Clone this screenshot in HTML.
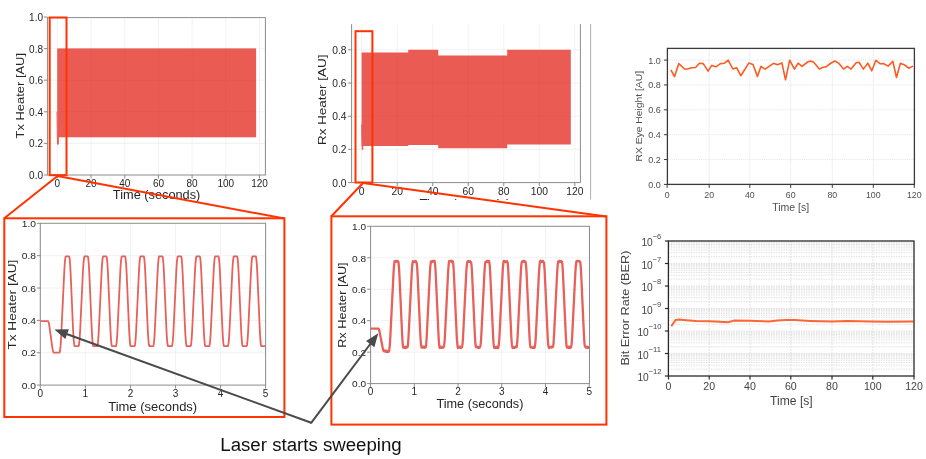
<!DOCTYPE html>
<html><head><meta charset="utf-8"><style>
html,body{margin:0;padding:0;background:#fff;}
svg{display:block;will-change:transform;}
</style></head><body>
<svg width="926" height="459" viewBox="0 0 926 459" font-family='"Liberation Sans", sans-serif'>
<rect width="926" height="459" fill="#fff"/>
<line x1="57.4" y1="17.6" x2="57.4" y2="175" stroke="#efefef" stroke-width="0.8" />
<line x1="91.08" y1="17.6" x2="91.08" y2="175" stroke="#efefef" stroke-width="0.8" />
<line x1="124.76" y1="17.6" x2="124.76" y2="175" stroke="#efefef" stroke-width="0.8" />
<line x1="158.44" y1="17.6" x2="158.44" y2="175" stroke="#efefef" stroke-width="0.8" />
<line x1="192.12" y1="17.6" x2="192.12" y2="175" stroke="#efefef" stroke-width="0.8" />
<line x1="225.8" y1="17.6" x2="225.8" y2="175" stroke="#efefef" stroke-width="0.8" />
<line x1="259.48" y1="17.6" x2="259.48" y2="175" stroke="#efefef" stroke-width="0.8" />
<line x1="47.4" y1="143.4" x2="265.4" y2="143.4" stroke="#efefef" stroke-width="0.8" />
<line x1="47.4" y1="111.8" x2="265.4" y2="111.8" stroke="#efefef" stroke-width="0.8" />
<line x1="47.4" y1="80.2" x2="265.4" y2="80.2" stroke="#efefef" stroke-width="0.8" />
<line x1="47.4" y1="48.6" x2="265.4" y2="48.6" stroke="#efefef" stroke-width="0.8" />
<rect x="57.2" y="48.4" width="198.9" height="88.9" fill="#EA5B53"/>
<polygon points="56.5,111.8 57.3,111.8 57.6,137 58.9,137 58.9,144.4 57.0,144.4 56.6,120" fill="#EA5B53"/>
<line x1="91.08" y1="48.4" x2="91.08" y2="137.3" stroke="#000" stroke-width="0.8" stroke-opacity="0.03"/>
<line x1="124.76" y1="48.4" x2="124.76" y2="137.3" stroke="#000" stroke-width="0.8" stroke-opacity="0.03"/>
<line x1="158.44" y1="48.4" x2="158.44" y2="137.3" stroke="#000" stroke-width="0.8" stroke-opacity="0.03"/>
<line x1="192.12" y1="48.4" x2="192.12" y2="137.3" stroke="#000" stroke-width="0.8" stroke-opacity="0.03"/>
<line x1="225.8" y1="48.4" x2="225.8" y2="137.3" stroke="#000" stroke-width="0.8" stroke-opacity="0.03"/>
<line x1="57.2" y1="111.8" x2="255.7" y2="111.8" stroke="#000" stroke-width="0.8" stroke-opacity="0.03"/>
<line x1="57.2" y1="80.2" x2="255.7" y2="80.2" stroke="#000" stroke-width="0.8" stroke-opacity="0.03"/>
<rect x="47.4" y="17.6" width="218" height="157.4" fill="none" stroke="#8c8c8c" stroke-width="1"/>
<line x1="43.9" y1="175" x2="47.4" y2="175" stroke="#8c8c8c" stroke-width="1" />
<text x="43" y="179" font-size="10" fill="#262626" text-anchor="end" font-family='"Liberation Sans", sans-serif' textLength="13.9" lengthAdjust="spacingAndGlyphs" >0.0</text>
<line x1="43.9" y1="143.4" x2="47.4" y2="143.4" stroke="#8c8c8c" stroke-width="1" />
<text x="43" y="147.4" font-size="10" fill="#262626" text-anchor="end" font-family='"Liberation Sans", sans-serif' textLength="13.9" lengthAdjust="spacingAndGlyphs" >0.2</text>
<line x1="43.9" y1="111.8" x2="47.4" y2="111.8" stroke="#8c8c8c" stroke-width="1" />
<text x="43" y="115.8" font-size="10" fill="#262626" text-anchor="end" font-family='"Liberation Sans", sans-serif' textLength="13.9" lengthAdjust="spacingAndGlyphs" >0.4</text>
<line x1="43.9" y1="80.2" x2="47.4" y2="80.2" stroke="#8c8c8c" stroke-width="1" />
<text x="43" y="84.2" font-size="10" fill="#262626" text-anchor="end" font-family='"Liberation Sans", sans-serif' textLength="13.9" lengthAdjust="spacingAndGlyphs" >0.6</text>
<line x1="43.9" y1="48.6" x2="47.4" y2="48.6" stroke="#8c8c8c" stroke-width="1" />
<text x="43" y="52.6" font-size="10" fill="#262626" text-anchor="end" font-family='"Liberation Sans", sans-serif' textLength="13.9" lengthAdjust="spacingAndGlyphs" >0.8</text>
<line x1="43.9" y1="17" x2="47.4" y2="17" stroke="#8c8c8c" stroke-width="1" />
<text x="43" y="21" font-size="10" fill="#262626" text-anchor="end" font-family='"Liberation Sans", sans-serif' textLength="13.9" lengthAdjust="spacingAndGlyphs" >1.0</text>
<line x1="57.4" y1="175" x2="57.4" y2="178.5" stroke="#8c8c8c" stroke-width="1" />
<text x="57.4" y="186.5" font-size="10" fill="#262626" text-anchor="middle" font-family='"Liberation Sans", sans-serif' textLength="5.56" lengthAdjust="spacingAndGlyphs" >0</text>
<line x1="91.08" y1="175" x2="91.08" y2="178.5" stroke="#8c8c8c" stroke-width="1" />
<text x="91.08" y="186.5" font-size="10" fill="#262626" text-anchor="middle" font-family='"Liberation Sans", sans-serif' textLength="11.12" lengthAdjust="spacingAndGlyphs" >20</text>
<line x1="124.76" y1="175" x2="124.76" y2="178.5" stroke="#8c8c8c" stroke-width="1" />
<text x="124.76" y="186.5" font-size="10" fill="#262626" text-anchor="middle" font-family='"Liberation Sans", sans-serif' textLength="11.12" lengthAdjust="spacingAndGlyphs" >40</text>
<line x1="158.44" y1="175" x2="158.44" y2="178.5" stroke="#8c8c8c" stroke-width="1" />
<text x="158.44" y="186.5" font-size="10" fill="#262626" text-anchor="middle" font-family='"Liberation Sans", sans-serif' textLength="11.12" lengthAdjust="spacingAndGlyphs" >60</text>
<line x1="192.12" y1="175" x2="192.12" y2="178.5" stroke="#8c8c8c" stroke-width="1" />
<text x="192.12" y="186.5" font-size="10" fill="#262626" text-anchor="middle" font-family='"Liberation Sans", sans-serif' textLength="11.12" lengthAdjust="spacingAndGlyphs" >80</text>
<line x1="225.8" y1="175" x2="225.8" y2="178.5" stroke="#8c8c8c" stroke-width="1" />
<text x="225.8" y="186.5" font-size="10" fill="#262626" text-anchor="middle" font-family='"Liberation Sans", sans-serif' textLength="16.68" lengthAdjust="spacingAndGlyphs" >100</text>
<line x1="259.48" y1="175" x2="259.48" y2="178.5" stroke="#8c8c8c" stroke-width="1" />
<text x="259.48" y="186.5" font-size="10" fill="#262626" text-anchor="middle" font-family='"Liberation Sans", sans-serif' textLength="16.68" lengthAdjust="spacingAndGlyphs" >120</text>
<text x="156.6" y="199.4" font-size="12.0" fill="#262626" text-anchor="middle" font-family='"Liberation Sans", sans-serif' textLength="87.5" lengthAdjust="spacingAndGlyphs" >Time (seconds)</text>
<text x="0" y="0" font-size="11.8" fill="#262626" text-anchor="middle" font-family='"Liberation Sans", sans-serif' textLength="85.5" lengthAdjust="spacingAndGlyphs" transform="translate(24.2,95.7) rotate(-90)">Tx Heater [AU]</text>
<line x1="361.7" y1="24.2" x2="361.7" y2="182.6" stroke="#efefef" stroke-width="0.8" />
<line x1="397.22" y1="24.2" x2="397.22" y2="182.6" stroke="#efefef" stroke-width="0.8" />
<line x1="432.74" y1="24.2" x2="432.74" y2="182.6" stroke="#efefef" stroke-width="0.8" />
<line x1="468.26" y1="24.2" x2="468.26" y2="182.6" stroke="#efefef" stroke-width="0.8" />
<line x1="503.78" y1="24.2" x2="503.78" y2="182.6" stroke="#efefef" stroke-width="0.8" />
<line x1="539.3" y1="24.2" x2="539.3" y2="182.6" stroke="#efefef" stroke-width="0.8" />
<line x1="574.82" y1="24.2" x2="574.82" y2="182.6" stroke="#efefef" stroke-width="0.8" />
<line x1="351.6" y1="149.4" x2="580.4" y2="149.4" stroke="#efefef" stroke-width="0.8" />
<line x1="351.6" y1="116.2" x2="580.4" y2="116.2" stroke="#efefef" stroke-width="0.8" />
<line x1="351.6" y1="83" x2="580.4" y2="83" stroke="#efefef" stroke-width="0.8" />
<line x1="351.6" y1="49.8" x2="580.4" y2="49.8" stroke="#efefef" stroke-width="0.8" />
<polygon points="361.6,52.6 408.2,52.6 408.2,49.7 438.2,49.7 438.2,55.4 507.2,55.4 507.2,49.7 570.8,49.7 570.8,144.6 507.2,144.6 507.2,148.3 438.2,148.3 438.2,145.1 408.2,145.1 408.2,145.9 361.6,145.9" fill="#EA5B53"/>
<polygon points="361.0,124.5 361.8,124.5 362.2,145 363.2,145 363.2,149.8 361.8,149.8 361.2,130" fill="#EA5B53"/>
<line x1="397.22" y1="56" x2="397.22" y2="144" stroke="#000" stroke-width="0.8" stroke-opacity="0.03"/>
<line x1="432.74" y1="56" x2="432.74" y2="144" stroke="#000" stroke-width="0.8" stroke-opacity="0.03"/>
<line x1="468.26" y1="56" x2="468.26" y2="144" stroke="#000" stroke-width="0.8" stroke-opacity="0.03"/>
<line x1="503.78" y1="56" x2="503.78" y2="144" stroke="#000" stroke-width="0.8" stroke-opacity="0.03"/>
<line x1="539.3" y1="56" x2="539.3" y2="144" stroke="#000" stroke-width="0.8" stroke-opacity="0.03"/>
<line x1="362" y1="116.2" x2="570.8" y2="116.2" stroke="#000" stroke-width="0.8" stroke-opacity="0.03"/>
<line x1="362" y1="83" x2="570.8" y2="83" stroke="#000" stroke-width="0.8" stroke-opacity="0.03"/>
<line x1="351.6" y1="24.2" x2="351.6" y2="182.6" stroke="#8c8c8c" stroke-width="1" />
<line x1="580.4" y1="24.2" x2="580.4" y2="182.6" stroke="#8c8c8c" stroke-width="1" />
<line x1="351.6" y1="182.6" x2="580.4" y2="182.6" stroke="#8c8c8c" stroke-width="1" />
<line x1="590.6" y1="24" x2="590.6" y2="199.6" stroke="#b0b0b0" stroke-width="1" />
<line x1="348.1" y1="182.6" x2="351.6" y2="182.6" stroke="#8c8c8c" stroke-width="1" />
<text x="346.6" y="186.6" font-size="10.3" fill="#262626" text-anchor="end" font-family='"Liberation Sans", sans-serif' textLength="14.32" lengthAdjust="spacingAndGlyphs" >0.0</text>
<line x1="348.1" y1="149.4" x2="351.6" y2="149.4" stroke="#8c8c8c" stroke-width="1" />
<text x="346.6" y="153.4" font-size="10.3" fill="#262626" text-anchor="end" font-family='"Liberation Sans", sans-serif' textLength="14.32" lengthAdjust="spacingAndGlyphs" >0.2</text>
<line x1="348.1" y1="116.2" x2="351.6" y2="116.2" stroke="#8c8c8c" stroke-width="1" />
<text x="346.6" y="120.2" font-size="10.3" fill="#262626" text-anchor="end" font-family='"Liberation Sans", sans-serif' textLength="14.32" lengthAdjust="spacingAndGlyphs" >0.4</text>
<line x1="348.1" y1="83" x2="351.6" y2="83" stroke="#8c8c8c" stroke-width="1" />
<text x="346.6" y="87" font-size="10.3" fill="#262626" text-anchor="end" font-family='"Liberation Sans", sans-serif' textLength="14.32" lengthAdjust="spacingAndGlyphs" >0.6</text>
<line x1="348.1" y1="49.8" x2="351.6" y2="49.8" stroke="#8c8c8c" stroke-width="1" />
<text x="346.6" y="53.8" font-size="10.3" fill="#262626" text-anchor="end" font-family='"Liberation Sans", sans-serif' textLength="14.32" lengthAdjust="spacingAndGlyphs" >0.8</text>
<line x1="361.7" y1="182.6" x2="361.7" y2="186.1" stroke="#8c8c8c" stroke-width="1" />
<text x="361.7" y="194.8" font-size="10.3" fill="#262626" text-anchor="middle" font-family='"Liberation Sans", sans-serif' textLength="5.73" lengthAdjust="spacingAndGlyphs" >0</text>
<line x1="397.22" y1="182.6" x2="397.22" y2="186.1" stroke="#8c8c8c" stroke-width="1" />
<text x="397.22" y="194.8" font-size="10.3" fill="#262626" text-anchor="middle" font-family='"Liberation Sans", sans-serif' textLength="11.46" lengthAdjust="spacingAndGlyphs" >20</text>
<line x1="432.74" y1="182.6" x2="432.74" y2="186.1" stroke="#8c8c8c" stroke-width="1" />
<text x="432.74" y="194.8" font-size="10.3" fill="#262626" text-anchor="middle" font-family='"Liberation Sans", sans-serif' textLength="11.46" lengthAdjust="spacingAndGlyphs" >40</text>
<line x1="468.26" y1="182.6" x2="468.26" y2="186.1" stroke="#8c8c8c" stroke-width="1" />
<text x="468.26" y="194.8" font-size="10.3" fill="#262626" text-anchor="middle" font-family='"Liberation Sans", sans-serif' textLength="11.46" lengthAdjust="spacingAndGlyphs" >60</text>
<line x1="503.78" y1="182.6" x2="503.78" y2="186.1" stroke="#8c8c8c" stroke-width="1" />
<text x="503.78" y="194.8" font-size="10.3" fill="#262626" text-anchor="middle" font-family='"Liberation Sans", sans-serif' textLength="11.46" lengthAdjust="spacingAndGlyphs" >80</text>
<line x1="539.3" y1="182.6" x2="539.3" y2="186.1" stroke="#8c8c8c" stroke-width="1" />
<text x="539.3" y="194.8" font-size="10.3" fill="#262626" text-anchor="middle" font-family='"Liberation Sans", sans-serif' textLength="17.18" lengthAdjust="spacingAndGlyphs" >100</text>
<line x1="574.82" y1="182.6" x2="574.82" y2="186.1" stroke="#8c8c8c" stroke-width="1" />
<text x="574.82" y="194.8" font-size="10.3" fill="#262626" text-anchor="middle" font-family='"Liberation Sans", sans-serif' textLength="17.18" lengthAdjust="spacingAndGlyphs" >120</text>
<clipPath id="cb"><rect x="400" y="190" width="150" height="10"/></clipPath>
<text x="465" y="207.6" font-size="12.6" fill="#262626" text-anchor="middle" font-family='"Liberation Sans", sans-serif' textLength="91" lengthAdjust="spacingAndGlyphs" clip-path="url(#cb)">Time (seconds)</text>
<text x="0" y="0" font-size="11.1" fill="#262626" text-anchor="middle" font-family='"Liberation Sans", sans-serif' textLength="90.5" lengthAdjust="spacingAndGlyphs" transform="translate(326.0,99.8) rotate(-90)">Rx Heater [AU]</text>
<line x1="709.2" y1="48.4" x2="709.2" y2="184.4" stroke="#e3e3e3" stroke-width="0.9" stroke-dasharray="1.2,0.9"/>
<line x1="749.8" y1="48.4" x2="749.8" y2="184.4" stroke="#e3e3e3" stroke-width="0.9" stroke-dasharray="1.2,0.9"/>
<line x1="790.7" y1="48.4" x2="790.7" y2="184.4" stroke="#e3e3e3" stroke-width="0.9" stroke-dasharray="1.2,0.9"/>
<line x1="832.3" y1="48.4" x2="832.3" y2="184.4" stroke="#e3e3e3" stroke-width="0.9" stroke-dasharray="1.2,0.9"/>
<line x1="873.3" y1="48.4" x2="873.3" y2="184.4" stroke="#e3e3e3" stroke-width="0.9" stroke-dasharray="1.2,0.9"/>
<line x1="667.4" y1="159.54" x2="914.4" y2="159.54" stroke="#e3e3e3" stroke-width="0.9" stroke-dasharray="1.2,0.9"/>
<line x1="667.4" y1="134.68" x2="914.4" y2="134.68" stroke="#e3e3e3" stroke-width="0.9" stroke-dasharray="1.2,0.9"/>
<line x1="667.4" y1="109.82" x2="914.4" y2="109.82" stroke="#e3e3e3" stroke-width="0.9" stroke-dasharray="1.2,0.9"/>
<line x1="667.4" y1="84.96" x2="914.4" y2="84.96" stroke="#e3e3e3" stroke-width="0.9" stroke-dasharray="1.2,0.9"/>
<line x1="667.4" y1="60.1" x2="914.4" y2="60.1" stroke="#e3e3e3" stroke-width="0.9" stroke-dasharray="1.2,0.9"/>
<polyline points="670.9,69.9 674.5,76.7 678.8,63.6 684.7,69 687.5,69 691.7,67.8 695.6,67.5 699.4,63.3 703.2,63.6 708.1,71.1 711.7,65.4 715.8,66.8 720.5,63.6 724.2,63.3 728.2,60.2 732.8,69 736.6,67.7 740.8,75.7 748.8,63.1 753,64.5 757.4,76.4 760.9,66.4 765.1,69.2 773.4,63.3 777.6,64.7 781.9,62.9 785.5,79.8 789.7,60.2 794.4,69.1 798.1,63.2 802,66.4 807.6,62 810.6,61 813.5,62 819.4,69.1 823,67.2 826,66.9 830.4,63.5 834.8,61 838.5,63.1 843.6,69.1 847.3,66.4 851,69.1 856.1,62.8 859,62.3 863.4,69.1 867.8,63.1 871.8,70.8 875.9,60.3 880.3,63.8 883.3,63.5 888.1,66.1 892.8,61.3 896.5,77.5 900.4,63.2 904.6,65 908.7,68.2 913.1,66.1" fill="none" stroke="#FF5A1F" stroke-width="1.6" stroke-linejoin="round" />
<rect x="667.4" y="48.4" width="247" height="136" fill="none" stroke="#3a3a3a" stroke-width="1.3"/>
<line x1="663.9" y1="184.4" x2="667.4" y2="184.4" stroke="#3a3a3a" stroke-width="1" />
<text x="660.8" y="187.9" font-size="9.4" fill="#505050" text-anchor="end" font-family='"Liberation Sans", sans-serif' textLength="12.6" lengthAdjust="spacingAndGlyphs" >0.0</text>
<line x1="663.9" y1="159.54" x2="667.4" y2="159.54" stroke="#3a3a3a" stroke-width="1" />
<text x="660.8" y="163.04" font-size="9.4" fill="#505050" text-anchor="end" font-family='"Liberation Sans", sans-serif' textLength="12.6" lengthAdjust="spacingAndGlyphs" >0.2</text>
<line x1="663.9" y1="134.68" x2="667.4" y2="134.68" stroke="#3a3a3a" stroke-width="1" />
<text x="660.8" y="138.18" font-size="9.4" fill="#505050" text-anchor="end" font-family='"Liberation Sans", sans-serif' textLength="12.6" lengthAdjust="spacingAndGlyphs" >0.4</text>
<line x1="663.9" y1="109.82" x2="667.4" y2="109.82" stroke="#3a3a3a" stroke-width="1" />
<text x="660.8" y="113.32" font-size="9.4" fill="#505050" text-anchor="end" font-family='"Liberation Sans", sans-serif' textLength="12.6" lengthAdjust="spacingAndGlyphs" >0.6</text>
<line x1="663.9" y1="84.96" x2="667.4" y2="84.96" stroke="#3a3a3a" stroke-width="1" />
<text x="660.8" y="88.46" font-size="9.4" fill="#505050" text-anchor="end" font-family='"Liberation Sans", sans-serif' textLength="12.6" lengthAdjust="spacingAndGlyphs" >0.8</text>
<line x1="663.9" y1="60.1" x2="667.4" y2="60.1" stroke="#3a3a3a" stroke-width="1" />
<text x="660.8" y="63.6" font-size="9.4" fill="#505050" text-anchor="end" font-family='"Liberation Sans", sans-serif' textLength="12.6" lengthAdjust="spacingAndGlyphs" >1.0</text>
<line x1="667.1" y1="184.4" x2="667.1" y2="187.9" stroke="#3a3a3a" stroke-width="1" />
<text x="667.1" y="198.1" font-size="9.8" fill="#505050" text-anchor="middle" font-family='"Liberation Sans", sans-serif' textLength="4.9" lengthAdjust="spacingAndGlyphs" >0</text>
<line x1="709.2" y1="184.4" x2="709.2" y2="187.9" stroke="#3a3a3a" stroke-width="1" />
<text x="709.2" y="198.1" font-size="9.8" fill="#505050" text-anchor="middle" font-family='"Liberation Sans", sans-serif' textLength="9.8" lengthAdjust="spacingAndGlyphs" >20</text>
<line x1="749.8" y1="184.4" x2="749.8" y2="187.9" stroke="#3a3a3a" stroke-width="1" />
<text x="749.8" y="198.1" font-size="9.8" fill="#505050" text-anchor="middle" font-family='"Liberation Sans", sans-serif' textLength="9.8" lengthAdjust="spacingAndGlyphs" >40</text>
<line x1="790.7" y1="184.4" x2="790.7" y2="187.9" stroke="#3a3a3a" stroke-width="1" />
<text x="790.7" y="198.1" font-size="9.8" fill="#505050" text-anchor="middle" font-family='"Liberation Sans", sans-serif' textLength="9.8" lengthAdjust="spacingAndGlyphs" >60</text>
<line x1="832.3" y1="184.4" x2="832.3" y2="187.9" stroke="#3a3a3a" stroke-width="1" />
<text x="832.3" y="198.1" font-size="9.8" fill="#505050" text-anchor="middle" font-family='"Liberation Sans", sans-serif' textLength="9.8" lengthAdjust="spacingAndGlyphs" >80</text>
<line x1="873.3" y1="184.4" x2="873.3" y2="187.9" stroke="#3a3a3a" stroke-width="1" />
<text x="873.3" y="198.1" font-size="9.8" fill="#505050" text-anchor="middle" font-family='"Liberation Sans", sans-serif' textLength="14.7" lengthAdjust="spacingAndGlyphs" >100</text>
<line x1="914.3" y1="184.4" x2="914.3" y2="187.9" stroke="#3a3a3a" stroke-width="1" />
<text x="914.3" y="198.1" font-size="9.8" fill="#505050" text-anchor="middle" font-family='"Liberation Sans", sans-serif' textLength="14.7" lengthAdjust="spacingAndGlyphs" >120</text>
<text x="790.7" y="211" font-size="10.6" fill="#505050" text-anchor="middle" font-family='"Liberation Sans", sans-serif' textLength="37" lengthAdjust="spacingAndGlyphs" >Time [s]</text>
<text x="0" y="0" font-size="9.9" fill="#505050" text-anchor="middle" font-family='"Liberation Sans", sans-serif' textLength="90.5" lengthAdjust="spacingAndGlyphs" transform="translate(642.2,116.2) rotate(-90)">RX Eye Height [AU]</text>
<line x1="40.3" y1="223.3" x2="40.3" y2="385.1" stroke="#efefef" stroke-width="0.8" />
<line x1="85.36" y1="223.3" x2="85.36" y2="385.1" stroke="#efefef" stroke-width="0.8" />
<line x1="130.42" y1="223.3" x2="130.42" y2="385.1" stroke="#efefef" stroke-width="0.8" />
<line x1="175.48" y1="223.3" x2="175.48" y2="385.1" stroke="#efefef" stroke-width="0.8" />
<line x1="220.54" y1="223.3" x2="220.54" y2="385.1" stroke="#efefef" stroke-width="0.8" />
<line x1="265.6" y1="223.3" x2="265.6" y2="385.1" stroke="#efefef" stroke-width="0.8" />
<line x1="40.3" y1="352.74" x2="265.6" y2="352.74" stroke="#efefef" stroke-width="0.8" />
<line x1="40.3" y1="320.38" x2="265.6" y2="320.38" stroke="#efefef" stroke-width="0.8" />
<line x1="40.3" y1="288.02" x2="265.6" y2="288.02" stroke="#efefef" stroke-width="0.8" />
<line x1="40.3" y1="255.66" x2="265.6" y2="255.66" stroke="#efefef" stroke-width="0.8" />
<polyline points="40.3,321.1 40.6,321.1 40.9,321.1 41.2,321.1 41.5,321.1 41.8,321.1 42.1,321.1 42.4,321.1 42.7,321.1 43,321.1 43.3,321.1 43.6,321.1 43.9,321.1 44.2,321.1 44.5,321.1 44.8,321.1 45.1,321.1 45.4,321.1 45.7,321.1 46,321.1 46.3,321.1 46.6,321.1 46.9,321.1 47.2,321.1 47.5,321.1 47.8,321.1 48.1,321.26 48.4,321.83 48.7,322.73 49,324.03 49.3,325.66 49.6,327.69 49.9,329.89 50.2,332.09 50.5,334.29 50.8,336.48 51.1,338.68 51.4,340.88 51.7,343.08 52,345.27 52.3,347.39 52.6,349.18 52.9,350.57 53.2,351.62 53.5,352.27 53.8,352.6 54.1,352.6 54.4,352.6 54.7,352.6 55,352.6 55.3,352.6 55.6,352.6 55.9,352.6 56.2,352.6 56.5,352.6 56.8,352.6 57.1,352.6 57.4,352.6 57.7,352.6 58,352.6 58.3,352.6 58.6,352.6 58.9,352.6 59.2,352.6 59.5,352.6 59.8,352.13 60.1,350.51 60.4,347.95 60.7,344.23 61,339.57 61.3,333.76 61.6,327.48 61.9,321.2 62.2,314.92 62.5,308.64 62.8,302.36 63.1,296.08 63.4,289.8 63.7,283.52 64,277.23 64.3,271.19 64.6,266.07 64.9,262.12 65.2,259.09 65.5,257.23 65.8,256.3 66.1,256.3 66.4,256.3 66.7,256.3 67,256.3 67.3,256.3 67.6,256.3 67.9,256.3 68.2,256.3 68.5,256.3 68.8,256.3 69.1,256.3 69.4,257.32 69.7,259.37 70,262.7 70.3,267.06 70.6,272.69 70.9,279.35 71.2,286.27 71.5,293.18 71.8,300.1 72.1,307.01 72.4,313.93 72.7,320.84 73,327.76 73.3,333.65 73.6,338.52 73.9,342.1 74.2,344.66 74.5,345.94 74.8,346.2 75.1,346.2 75.4,346.2 75.7,346.2 76,346.2 76.3,346.2 76.6,346.2 76.9,346.2 77.2,346.2 77.5,346.2 77.8,346.2 78.1,346.2 78.4,346.2 78.7,345.97 79,344.8 79.3,342.46 79.6,339.18 79.9,334.74 80.2,329.36 80.5,323.04 80.8,316.72 81.1,310.41 81.4,304.09 81.7,297.78 82,291.46 82.3,285.14 82.6,278.83 82.9,272.58 83.2,267.27 83.5,262.97 83.8,259.76 84.1,257.56 84.4,256.46 84.7,256.3 85,256.3 85.3,256.3 85.6,256.3 85.9,256.3 86.2,256.3 86.5,256.3 86.8,256.3 87.1,256.3 87.4,256.3 87.7,256.3 88,256.97 88.3,258.84 88.6,261.81 88.9,265.98 89.2,271.26 89.5,277.74 89.8,284.65 90.1,291.57 90.4,298.48 90.7,305.4 91,312.31 91.3,319.23 91.6,326.15 91.9,332.39 92.2,337.44 92.5,341.38 92.8,344.13 93.1,345.76 93.4,346.2 93.7,346.2 94,346.2 94.3,346.2 94.6,346.2 94.9,346.2 95.2,346.2 95.5,346.2 95.8,346.2 96.1,346.2 96.4,346.2 96.7,346.2 97,346.2 97.3,346.13 97.6,345.12 97.9,343.11 98.2,340 98.5,335.88 98.8,330.67 99.1,324.51 99.4,318.2 99.7,311.88 100,305.57 100.3,299.25 100.6,292.93 100.9,286.62 101.2,280.3 101.5,273.99 101.8,268.42 102.1,263.88 102.4,260.42 102.7,257.98 103,256.63 103.3,256.3 103.6,256.3 103.9,256.3 104.2,256.3 104.5,256.3 104.8,256.3 105.1,256.3 105.4,256.3 105.7,256.3 106,256.3 106.3,256.3 106.6,256.71 106.9,258.3 107.2,261.01 107.5,264.91 107.8,269.93 108.1,276.12 108.4,283.04 108.7,289.95 109,296.87 109.3,303.79 109.6,310.7 109.9,317.62 110.2,324.53 110.5,331.04 110.8,336.36 111.1,340.57 111.4,343.59 111.7,345.48 112,346.2 112.3,346.2 112.6,346.2 112.9,346.2 113.2,346.2 113.5,346.2 113.8,346.2 114.1,346.2 114.4,346.2 114.7,346.2 115,346.2 115.3,346.2 115.6,346.2 115.9,346.2 116.2,345.45 116.5,343.67 116.8,340.82 117.1,336.94 117.4,331.98 117.7,325.99 118,319.67 118.3,313.36 118.6,307.04 118.9,300.72 119.2,294.41 119.5,288.09 119.8,281.78 120.1,275.46 120.4,269.59 120.7,264.86 121,261.1 121.3,258.48 121.6,256.81 121.9,256.3 122.2,256.3 122.5,256.3 122.8,256.3 123.1,256.3 123.4,256.3 123.7,256.3 124,256.3 124.3,256.3 124.6,256.3 124.9,256.3 125.2,256.53 125.5,257.79 125.8,260.3 126.1,263.86 126.4,268.67 126.7,274.54 127,281.43 127.3,288.34 127.6,295.26 127.9,302.17 128.2,309.09 128.5,316 128.8,322.92 129.1,329.6 129.4,335.26 129.7,339.67 130,343.02 130.3,345.12 130.6,346.17 130.9,346.2 131.2,346.2 131.5,346.2 131.8,346.2 132.1,346.2 132.4,346.2 132.7,346.2 133,346.2 133.3,346.2 133.6,346.2 133.9,346.2 134.2,346.2 134.5,346.2 134.8,345.76 135.1,344.16 135.4,341.61 135.7,337.92 136,333.26 136.3,327.46 136.6,321.15 136.9,314.83 137.2,308.51 137.5,302.2 137.8,295.88 138.1,289.57 138.4,283.25 138.7,276.93 139,270.9 139.3,265.84 139.6,261.91 139.9,258.97 140.2,257.14 140.5,256.3 140.8,256.3 141.1,256.3 141.4,256.3 141.7,256.3 142,256.3 142.3,256.3 142.6,256.3 142.9,256.3 143.2,256.3 143.5,256.3 143.8,256.35 144.1,257.43 144.4,259.58 144.7,262.96 145,267.42 145.3,273.1 145.6,279.81 145.9,286.73 146.2,293.64 146.5,300.56 146.8,307.47 147.1,314.39 147.4,321.3 147.7,328.17 148,334.01 148.3,338.77 148.6,342.31 148.9,344.77 149.2,346 149.5,346.2 149.8,346.2 150.1,346.2 150.4,346.2 150.7,346.2 151,346.2 151.3,346.2 151.6,346.2 151.9,346.2 152.2,346.2 152.5,346.2 152.8,346.2 153.1,346.2 153.4,345.92 153.7,344.66 154,342.27 154.3,338.9 154.6,334.41 154.9,328.94 155.2,322.62 155.5,316.3 155.8,309.99 156.1,303.67 156.4,297.36 156.7,291.04 157,284.72 157.3,278.41 157.6,272.21 157.9,266.94 158.2,262.73 158.5,259.58 158.8,257.47 159.1,256.42 159.4,256.3 159.7,256.3 160,256.3 160.3,256.3 160.6,256.3 160.9,256.3 161.2,256.3 161.5,256.3 161.8,256.3 162.1,256.3 162.4,256.3 162.7,257.07 163,258.99 163.3,262.06 163.6,266.29 163.9,271.67 164.2,278.2 164.5,285.11 164.8,292.03 165.1,298.94 165.4,305.86 165.7,312.78 166,319.69 166.3,326.61 166.6,332.75 166.9,337.75 167.2,341.59 167.5,344.28 167.8,345.82 168.1,346.2 168.4,346.2 168.7,346.2 169,346.2 169.3,346.2 169.6,346.2 169.9,346.2 170.2,346.2 170.5,346.2 170.8,346.2 171.1,346.2 171.4,346.2 171.7,346.2 172,346.08 172.3,345.03 172.6,342.92 172.9,339.77 173.2,335.56 173.5,330.29 173.8,324.09 174.1,317.78 174.4,311.46 174.7,305.14 175,298.83 175.3,292.51 175.6,286.2 175.9,279.88 176.2,273.56 176.5,268.09 176.8,263.6 177.1,260.23 177.4,257.84 177.7,256.58 178,256.3 178.3,256.3 178.6,256.3 178.9,256.3 179.2,256.3 179.5,256.3 179.8,256.3 180.1,256.3 180.4,256.3 180.7,256.3 181,256.3 181.3,256.76 181.6,258.45 181.9,261.22 182.2,265.21 182.5,270.28 182.8,276.59 183.1,283.5 183.4,290.42 183.7,297.33 184,304.25 184.3,311.16 184.6,318.08 184.9,324.99 185.2,331.45 185.5,336.67 185.8,340.82 186.1,343.74 186.4,345.59 186.7,346.2 187,346.2 187.3,346.2 187.6,346.2 187.9,346.2 188.2,346.2 188.5,346.2 188.8,346.2 189.1,346.2 189.4,346.2 189.7,346.2 190,346.2 190.3,346.2 190.6,346.2 190.9,345.36 191.2,343.53 191.5,340.59 191.8,336.66 192.1,331.6 192.4,325.57 192.7,319.25 193,312.93 193.3,306.62 193.6,300.3 193.9,293.99 194.2,287.67 194.5,281.35 194.8,275.04 195.1,269.24 195.4,264.58 195.7,260.89 196,258.34 196.3,256.74 196.6,256.3 196.9,256.3 197.2,256.3 197.5,256.3 197.8,256.3 198.1,256.3 198.4,256.3 198.7,256.3 199,256.3 199.3,256.3 199.6,256.3 199.9,256.58 200.2,257.91 200.5,260.5 200.8,264.14 201.1,269.03 201.4,274.97 201.7,281.89 202,288.8 202.3,295.72 202.6,302.63 202.9,309.55 203.2,316.46 203.5,323.38 203.8,330.01 204.1,335.6 204.4,339.92 204.7,343.2 205,345.23 205.3,346.2 205.6,346.2 205.9,346.2 206.2,346.2 206.5,346.2 206.8,346.2 207.1,346.2 207.4,346.2 207.7,346.2 208,346.2 208.3,346.2 208.6,346.2 208.9,346.2 209.2,346.2 209.5,345.69 209.8,344.02 210.1,341.4 210.4,337.64 210.7,332.91 211,327.04 211.3,320.72 211.6,314.41 211.9,308.09 212.2,301.78 212.5,295.46 212.8,289.14 213.1,282.83 213.4,276.51 213.7,270.52 214,265.56 214.3,261.68 214.6,258.83 214.9,257.05 215.2,256.3 215.5,256.3 215.8,256.3 216.1,256.3 216.4,256.3 216.7,256.3 217,256.3 217.3,256.3 217.6,256.3 217.9,256.3 218.2,256.3 218.5,256.4 218.8,257.53 219.1,259.78 219.4,263.22 219.7,267.77 220,273.51 220.3,280.27 220.6,287.19 220.9,294.1 221.2,301.02 221.5,307.93 221.8,314.85 222.1,321.77 222.4,328.58 222.7,334.37 223,339.03 223.3,342.51 223.6,344.87 223.9,346.05 224.2,346.2 224.5,346.2 224.8,346.2 225.1,346.2 225.4,346.2 225.7,346.2 226,346.2 226.3,346.2 226.6,346.2 226.9,346.2 227.2,346.2 227.5,346.2 227.8,346.2 228.1,345.87 228.4,344.52 228.7,342.08 229,338.62 229.3,334.08 229.6,328.51 229.9,322.2 230.2,315.88 230.5,309.57 230.8,303.25 231.1,296.93 231.4,290.62 231.7,284.3 232,277.99 232.3,271.83 232.6,266.62 232.9,262.5 233.2,259.39 233.5,257.38 233.8,256.37 234.1,256.3 234.4,256.3 234.7,256.3 235,256.3 235.3,256.3 235.6,256.3 235.9,256.3 236.2,256.3 236.5,256.3 236.8,256.3 237.1,256.3 237.4,257.17 237.7,259.14 238,262.32 238.3,266.6 238.6,272.08 238.9,278.66 239.2,285.58 239.5,292.49 239.8,299.41 240.1,306.32 240.4,313.24 240.7,320.15 241,327.07 241.3,333.11 241.6,338.06 241.9,341.79 242.2,344.43 242.5,345.87 242.8,346.2 243.1,346.2 243.4,346.2 243.7,346.2 244,346.2 244.3,346.2 244.6,346.2 244.9,346.2 245.2,346.2 245.5,346.2 245.8,346.2 246.1,346.2 246.4,346.2 246.7,346.04 247,344.94 247.3,342.74 247.6,339.53 247.9,335.23 248.2,329.92 248.5,323.67 248.8,317.36 249.1,311.04 249.4,304.72 249.7,298.41 250,292.09 250.3,285.78 250.6,279.46 250.9,273.14 251.2,267.76 251.5,263.32 251.8,260.04 252.1,257.7 252.4,256.53 252.7,256.3 253,256.3 253.3,256.3 253.6,256.3 253.9,256.3 254.2,256.3 254.5,256.3 254.8,256.3 255.1,256.3 255.4,256.3 255.7,256.3 256,256.81 256.3,258.61 256.6,261.42 256.9,265.52 257.2,270.64 257.5,277.05 257.8,283.96 258.1,290.88 258.4,297.79 258.7,304.71 259,311.62 259.3,318.54 259.6,325.45 259.9,331.86 260.2,336.98 260.5,341.08 260.8,343.89 261.1,345.69 261.4,346.2 261.7,346.2 262,346.2 262.3,346.2 262.6,346.2 262.9,346.2 263.2,346.2 263.5,346.2 263.8,346.2 264.1,346.2 264.4,346.2 264.7,346.2 265,346.2 265.3,346.2 265.6,346.2" fill="none" stroke="#E8605A" stroke-width="1.8" stroke-linejoin="round" />
<rect x="40.3" y="223.3" width="225.3" height="161.8" fill="none" stroke="#8c8c8c" stroke-width="1"/>
<line x1="36.8" y1="385.1" x2="40.3" y2="385.1" stroke="#8c8c8c" stroke-width="1" />
<text x="36" y="388.7" font-size="9.7" fill="#262626" text-anchor="end" font-family='"Liberation Sans", sans-serif' textLength="14.29" lengthAdjust="spacingAndGlyphs" >0.0</text>
<line x1="36.8" y1="352.74" x2="40.3" y2="352.74" stroke="#8c8c8c" stroke-width="1" />
<text x="36" y="356.34" font-size="9.7" fill="#262626" text-anchor="end" font-family='"Liberation Sans", sans-serif' textLength="14.29" lengthAdjust="spacingAndGlyphs" >0.2</text>
<line x1="36.8" y1="320.38" x2="40.3" y2="320.38" stroke="#8c8c8c" stroke-width="1" />
<text x="36" y="323.98" font-size="9.7" fill="#262626" text-anchor="end" font-family='"Liberation Sans", sans-serif' textLength="14.29" lengthAdjust="spacingAndGlyphs" >0.4</text>
<line x1="36.8" y1="288.02" x2="40.3" y2="288.02" stroke="#8c8c8c" stroke-width="1" />
<text x="36" y="291.62" font-size="9.7" fill="#262626" text-anchor="end" font-family='"Liberation Sans", sans-serif' textLength="14.29" lengthAdjust="spacingAndGlyphs" >0.6</text>
<line x1="36.8" y1="255.66" x2="40.3" y2="255.66" stroke="#8c8c8c" stroke-width="1" />
<text x="36" y="259.26" font-size="9.7" fill="#262626" text-anchor="end" font-family='"Liberation Sans", sans-serif' textLength="14.29" lengthAdjust="spacingAndGlyphs" >0.8</text>
<line x1="36.8" y1="223.3" x2="40.3" y2="223.3" stroke="#8c8c8c" stroke-width="1" />
<text x="36" y="226.9" font-size="9.7" fill="#262626" text-anchor="end" font-family='"Liberation Sans", sans-serif' textLength="14.29" lengthAdjust="spacingAndGlyphs" >1.0</text>
<line x1="40.3" y1="385.1" x2="40.3" y2="388.6" stroke="#8c8c8c" stroke-width="1" />
<text x="40.3" y="397" font-size="10" fill="#262626" text-anchor="middle" font-family='"Liberation Sans", sans-serif' textLength="5.56" lengthAdjust="spacingAndGlyphs" >0</text>
<line x1="85.36" y1="385.1" x2="85.36" y2="388.6" stroke="#8c8c8c" stroke-width="1" />
<text x="85.36" y="397" font-size="10" fill="#262626" text-anchor="middle" font-family='"Liberation Sans", sans-serif' textLength="5.56" lengthAdjust="spacingAndGlyphs" >1</text>
<line x1="130.42" y1="385.1" x2="130.42" y2="388.6" stroke="#8c8c8c" stroke-width="1" />
<text x="130.42" y="397" font-size="10" fill="#262626" text-anchor="middle" font-family='"Liberation Sans", sans-serif' textLength="5.56" lengthAdjust="spacingAndGlyphs" >2</text>
<line x1="175.48" y1="385.1" x2="175.48" y2="388.6" stroke="#8c8c8c" stroke-width="1" />
<text x="175.48" y="397" font-size="10" fill="#262626" text-anchor="middle" font-family='"Liberation Sans", sans-serif' textLength="5.56" lengthAdjust="spacingAndGlyphs" >3</text>
<line x1="220.54" y1="385.1" x2="220.54" y2="388.6" stroke="#8c8c8c" stroke-width="1" />
<text x="220.54" y="397" font-size="10" fill="#262626" text-anchor="middle" font-family='"Liberation Sans", sans-serif' textLength="5.56" lengthAdjust="spacingAndGlyphs" >4</text>
<line x1="265.6" y1="385.1" x2="265.6" y2="388.6" stroke="#8c8c8c" stroke-width="1" />
<text x="265.6" y="397" font-size="10" fill="#262626" text-anchor="middle" font-family='"Liberation Sans", sans-serif' textLength="5.56" lengthAdjust="spacingAndGlyphs" >5</text>
<text x="152.7" y="410.5" font-size="12.2" fill="#262626" text-anchor="middle" font-family='"Liberation Sans", sans-serif' textLength="89" lengthAdjust="spacingAndGlyphs" >Time (seconds)</text>
<text x="0" y="0" font-size="11.8" fill="#262626" text-anchor="middle" font-family='"Liberation Sans", sans-serif' textLength="90" lengthAdjust="spacingAndGlyphs" transform="translate(15.7,304.6) rotate(-90)">Tx Heater [AU]</text>
<line x1="370.6" y1="226.3" x2="370.6" y2="383.6" stroke="#efefef" stroke-width="0.8" />
<line x1="414.32" y1="226.3" x2="414.32" y2="383.6" stroke="#efefef" stroke-width="0.8" />
<line x1="458.04" y1="226.3" x2="458.04" y2="383.6" stroke="#efefef" stroke-width="0.8" />
<line x1="501.76" y1="226.3" x2="501.76" y2="383.6" stroke="#efefef" stroke-width="0.8" />
<line x1="545.48" y1="226.3" x2="545.48" y2="383.6" stroke="#efefef" stroke-width="0.8" />
<line x1="589.2" y1="226.3" x2="589.2" y2="383.6" stroke="#efefef" stroke-width="0.8" />
<line x1="370.6" y1="352.14" x2="589.5" y2="352.14" stroke="#efefef" stroke-width="0.8" />
<line x1="370.6" y1="320.68" x2="589.5" y2="320.68" stroke="#efefef" stroke-width="0.8" />
<line x1="370.6" y1="289.22" x2="589.5" y2="289.22" stroke="#efefef" stroke-width="0.8" />
<line x1="370.6" y1="257.76" x2="589.5" y2="257.76" stroke="#efefef" stroke-width="0.8" />
<polyline points="370.6,328.6 370.9,328.6 371.2,328.6 371.5,328.6 371.8,328.6 372.1,328.6 372.4,328.6 372.7,328.6 373,328.6 373.3,328.6 373.6,328.6 373.9,328.6 374.2,328.6 374.5,328.6 374.8,328.6 375.1,328.6 375.4,328.6 375.7,328.6 376,328.6 376.3,328.6 376.6,328.6 376.9,328.6 377.2,328.6 377.5,328.6 377.8,328.6 378.1,328.6 378.4,328.6 378.7,328.86 379,329.48 379.3,330.45 379.6,331.77 379.9,333.35 380.2,334.93 380.5,336.52 380.8,338.1 381.1,339.69 381.4,341.27 381.7,342.85 382,344.19 382.3,345.53 382.6,347.82 382.9,348.44 383.2,350.18 383.5,350.67 383.8,350.62 384.1,351.31 384.4,350.65 384.7,351.21 385,350.7 385.3,350.73 385.6,351.19 385.9,351.76 386.2,350.77 386.5,350.91 386.8,351.48 387.1,351.93 387.4,351.41 387.7,351.16 388,351.97 388.3,350.67 388.6,351.8 388.9,351.01 389.2,350.25 389.5,348.33 389.8,345.38 390.1,341.1 390.4,335.34 390.7,329.35 391,323.36 391.3,317.38 391.6,311.39 391.9,305.4 392.2,299.42 392.5,293.43 392.8,287.44 393.1,281.46 393.4,275.47 393.7,270.04 394,265.93 394.3,263.61 394.6,261.27 394.9,261.61 395.2,261.69 395.5,261.32 395.8,261.57 396.1,260.89 396.4,260.88 396.7,261.09 397,261.75 397.3,261.4 397.6,261.24 397.9,261.62 398.2,261.43 398.5,262.32 398.8,265.17 399.1,269.2 399.4,274.7 399.7,281.3 400,287.9 400.3,294.5 400.6,301.1 400.9,307.7 401.2,314.3 401.5,320.9 401.8,327.5 402.1,334.1 402.4,339.6 402.7,343.63 403,346.61 403.3,347.58 403.6,346.94 403.9,347.4 404.2,347.34 404.5,347.83 404.8,347.62 405.1,347 405.4,347.97 405.7,346.77 406,347.19 406.3,347.66 406.6,346.81 406.9,347.28 407.2,346.65 407.5,347.31 407.8,346 408.1,342.85 408.4,338.72 408.7,333.27 409,327.25 409.3,321.24 409.6,315.23 409.9,309.21 410.2,303.2 410.5,297.18 410.8,291.17 411.1,285.16 411.4,279.14 411.7,273.17 412,268.25 412.3,264.77 412.6,262.94 412.9,261.24 413.2,261.77 413.5,261.63 413.8,261.61 414.1,261.44 414.4,261.98 414.7,262.12 415,261.46 415.3,261.73 415.6,260.88 415.9,261.78 416.2,261.71 416.5,262.48 416.8,263.93 417.1,266.63 417.4,271.25 417.7,277.34 418,283.94 418.3,290.54 418.6,297.14 418.9,303.74 419.2,310.34 419.5,316.94 419.8,323.54 420.1,330.14 420.4,336.45 420.7,341.36 421,344.51 421.3,346.63 421.6,347.54 421.9,346.63 422.2,347.25 422.5,346.84 422.8,346.76 423.1,346.68 423.4,347.68 423.7,346.78 424,346.95 424.3,347.15 424.6,347.82 424.9,346.71 425.2,347.23 425.5,347.37 425.8,347.19 426.1,345.12 426.4,341.35 426.7,336.7 427,330.86 427.3,324.85 427.6,318.83 427.9,312.82 428.2,306.81 428.5,300.79 428.8,294.78 429.1,288.76 429.4,282.75 429.7,276.74 430,271.03 430.3,266.65 430.6,264.1 430.9,261.57 431.2,261.38 431.5,261.3 431.8,262.04 432.1,262.14 432.4,261.01 432.7,261.05 433,261.12 433.3,261.13 433.6,261.48 433.9,261.62 434.2,261.17 434.5,260.81 434.8,262.19 435.1,264.4 435.4,268.32 435.7,273.53 436,279.98 436.3,286.58 436.6,293.18 436.9,299.78 437.2,306.38 437.5,312.98 437.8,319.58 438.1,326.18 438.4,332.78 438.7,338.57 439,342.9 439.3,345.85 439.6,347.79 439.9,347.57 440.2,347.32 440.5,347.46 440.8,347.55 441.1,346.68 441.4,347.86 441.7,347.69 442,347.82 442.3,347.72 442.6,347.15 442.9,347.16 443.2,346.74 443.5,347.49 443.8,346.6 444.1,345.42 444.4,343.51 444.7,339.66 445,334.47 445.3,328.46 445.6,322.44 445.9,316.43 446.2,310.41 446.5,304.4 446.8,298.39 447.1,292.37 447.4,286.36 447.7,280.34 448,274.33 448.3,269.14 448.6,265.29 448.9,262.36 449.2,261.12 449.5,261.28 449.8,260.87 450.1,260.8 450.4,261.01 450.7,260.94 451,261.31 451.3,260.84 451.6,262.02 451.9,261.66 452.2,261.01 452.5,261.15 452.8,261.43 453.1,262.85 453.4,265.9 453.7,270.23 454,276.02 454.3,282.62 454.6,289.22 454.9,295.82 455.2,302.42 455.5,309.02 455.8,315.62 456.1,322.22 456.4,328.82 456.7,335.27 457,340.48 457.3,343.69 457.6,346.98 457.9,347.99 458.2,347.25 458.5,347.28 458.8,346.72 459.1,346.74 459.4,347.08 459.7,346.97 460,347.76 460.3,346.83 460.6,346.63 460.9,347.93 461.2,347.34 461.5,346.81 461.8,347.36 462.1,346.26 462.4,345.25 462.7,342.15 463,337.77 463.3,332.06 463.6,326.05 463.9,320.04 464.2,314.02 464.5,308.01 464.8,301.99 465.1,295.98 465.4,289.97 465.7,283.95 466,277.94 466.3,272.1 466.6,267.45 466.9,264.8 467.2,262.65 467.5,261.77 467.8,261.17 468.1,261.31 468.4,261.03 468.7,261.88 469,261.55 469.3,261.89 469.6,261.26 469.9,261.11 470.2,261.94 470.5,262.18 470.8,261.99 471.1,262.44 471.4,264.44 471.7,267.44 472,272.35 472.3,278.66 472.6,285.26 472.9,291.86 473.2,298.46 473.5,305.06 473.8,311.66 474.1,318.26 474.4,324.86 474.7,331.46 475,337.55 475.3,342.17 475.6,345.66 475.9,346.62 476.2,347.32 476.5,347.1 476.8,346.64 477.1,346.64 477.4,346.99 477.7,346.96 478,347.57 478.3,347.94 478.6,347.23 478.9,347.91 479.2,347.98 479.5,347.94 479.8,347.11 480.1,346.91 480.4,346 480.7,343.71 481,340.55 481.3,335.63 481.6,329.66 481.9,323.64 482.2,317.63 482.5,311.62 482.8,305.6 483.1,299.59 483.4,293.57 483.7,287.56 484,281.55 484.3,275.53 484.6,270.08 484.9,265.95 485.2,262.76 485.5,261.9 485.8,262.06 486.1,261.98 486.4,261.47 486.7,261.71 487,261.92 487.3,260.92 487.6,261.72 487.9,262.07 488.2,261.9 488.5,261.85 488.8,261.47 489.1,261.05 489.4,263 489.7,265.17 490,269.2 490.3,274.7 490.6,281.3 490.9,287.9 491.2,294.5 491.5,301.1 491.8,307.7 492.1,314.3 492.4,320.9 492.7,327.5 493,334.1 493.3,339.6 493.6,343.63 493.9,345.97 494.2,347.72 494.5,347.96 494.8,347.15 495.1,347.16 495.4,347.93 495.7,347.61 496,346.84 496.3,346.78 496.6,346.81 496.9,347.87 497.2,347.73 497.5,346.8 497.8,347.76 498.1,347.97 498.4,347.3 498.7,345.42 499,342.85 499.3,338.72 499.6,333.27 499.9,327.25 500.2,321.24 500.5,315.23 500.8,309.21 501.1,303.2 501.4,297.18 501.7,291.17 502,285.16 502.3,279.14 502.6,273.17 502.9,268.25 503.2,264.73 503.5,261.9 503.8,260.82 504.1,262.16 504.4,261.71 504.7,261.54 505,262.11 505.3,261.41 505.6,262.02 505.9,261.96 506.2,261.1 506.5,261.15 506.8,261.21 507.1,261.14 507.4,261.91 507.7,263.14 508,266.63 508.3,271.25 508.6,277.34 508.9,283.94 509.2,290.54 509.5,297.14 509.8,303.74 510.1,310.34 510.4,316.94 510.7,323.54 511,330.14 511.3,336.45 511.6,341.36 511.9,344.69 512.2,346.27 512.5,347.87 512.8,347.1 513.1,347.24 513.4,347.42 513.7,347.87 514,347.19 514.3,347.88 514.6,347.3 514.9,347.34 515.2,347.33 515.5,346.63 515.8,347.22 516.1,346.86 516.4,346.61 516.7,347.07 517,344.21 517.3,341.35 517.6,336.7 517.9,330.86 518.2,324.85 518.5,318.83 518.8,312.82 519.1,306.81 519.4,300.79 519.7,294.78 520,288.76 520.3,282.75 520.6,276.74 520.9,271.03 521.2,266.65 521.5,263.56 521.8,262.19 522.1,261.58 522.4,261.26 522.7,261.53 523,261.58 523.3,261.9 523.6,260.95 523.9,261.58 524.2,261.15 524.5,261.19 524.8,261.88 525.1,261.51 525.4,261.59 525.7,262.67 526,265.16 526.3,268.32 526.6,273.53 526.9,279.98 527.2,286.58 527.5,293.18 527.8,299.78 528.1,306.38 528.4,312.98 528.7,319.58 529,326.18 529.3,332.78 529.6,338.57 529.9,342.9 530.2,345.68 530.5,347.31 530.8,347.31 531.1,347.32 531.4,347.57 531.7,347.23 532,347.35 532.3,347.27 532.6,347.92 532.9,347.58 533.2,347.83 533.5,347.92 533.8,346.96 534.1,347.38 534.4,347.92 534.7,347.69 535,345.52 535.3,343.51 535.6,339.66 535.9,334.47 536.2,328.46 536.5,322.44 536.8,316.43 537.1,310.41 537.4,304.4 537.7,298.39 538,292.37 538.3,286.36 538.6,280.34 538.9,274.33 539.2,269.14 539.5,265.29 539.8,262.24 540.1,261.51 540.4,260.9 540.7,261.14 541,260.9 541.3,261.74 541.6,261.9 541.9,262.06 542.2,261.02 542.5,261.8 542.8,261.72 543.1,261 543.4,262.04 543.7,262.3 544,262.65 544.3,265.9 544.6,270.23 544.9,276.02 545.2,282.62 545.5,289.22 545.8,295.82 546.1,302.42 546.4,309.02 546.7,315.62 547,322.22 547.3,328.82 547.6,335.27 547.9,340.48 548.2,344.85 548.5,346.35 548.8,347.28 549.1,347.99 549.4,347.77 549.7,346.83 550,347.2 550.3,347.32 550.6,347.07 550.9,346.87 551.2,347.05 551.5,347.61 551.8,346.63 552.1,347.38 552.4,347.22 552.7,346.63 553,346.69 553.3,345.38 553.6,342.15 553.9,337.77 554.2,332.06 554.5,326.05 554.8,320.04 555.1,314.02 555.4,308.01 555.7,301.99 556,295.98 556.3,289.97 556.6,283.95 556.9,277.94 557.2,272.1 557.5,267.45 557.8,264.15 558.1,261.54 558.4,262.18 558.7,261.9 559,262.16 559.3,260.95 559.6,261.17 559.9,260.86 560.2,261.89 560.5,261.18 560.8,260.98 561.1,261.39 561.4,262.08 561.7,261.95 562,261.68 562.3,263.5 562.6,267.44 562.9,272.35 563.2,278.66 563.5,285.26 563.8,291.86 564.1,298.46 564.4,305.06 564.7,311.66 565,318.26 565.3,324.86 565.6,331.46 565.9,337.55 566.2,342.17 566.5,345.91 566.8,347.11 567.1,347.58 567.4,346.73 567.7,346.68 568,347.56 568.3,347.2 568.6,346.7 568.9,347.91 569.2,347.49 569.5,347.72 569.8,346.72 570.1,347.8 570.4,346.69 570.7,347.81 571,347.24 571.3,346.16 571.6,344.21 571.9,340.55 572.2,335.63 572.5,329.66 572.8,323.64 573.1,317.63 573.4,311.62 573.7,305.6 574,299.59 574.3,293.57 574.6,287.56 574.9,281.55 575.2,275.53 575.5,270.08 575.8,265.95 576.1,263.77 576.4,261.4 576.7,260.98 577,261.54 577.3,261.13 577.6,260.95 577.9,261.03 578.2,260.87 578.5,261.08 578.8,261.24 579.1,261.23 579.4,261.86 579.7,261.21 580,261.5 580.3,262.15 580.6,265.17 580.9,269.2 581.2,274.7 581.5,281.3 581.8,287.9 582.1,294.5 582.4,301.1 582.7,307.7 583,314.3 583.3,320.9 583.6,327.5 583.9,334.1 584.2,339.6 584.5,343.63 584.8,345.99 585.1,346.63 585.4,346.95 585.7,346.62 586,347.63 586.3,347.37 586.6,346.87 586.9,347.26 587.2,347.91 587.5,346.75 587.8,347.75 588.1,347.21 588.4,347.29 588.7,347.77 589,347.15 589.3,347.31" fill="none" stroke="#E8605A" stroke-width="2.3" stroke-linejoin="round" />
<rect x="370.6" y="226.3" width="218.9" height="157.3" fill="none" stroke="#8c8c8c" stroke-width="1"/>
<line x1="367.1" y1="383.6" x2="370.6" y2="383.6" stroke="#8c8c8c" stroke-width="1" />
<text x="366.1" y="387.4" font-size="9.7" fill="#262626" text-anchor="end" font-family='"Liberation Sans", sans-serif' textLength="14.02" lengthAdjust="spacingAndGlyphs" >0.0</text>
<line x1="367.1" y1="352.14" x2="370.6" y2="352.14" stroke="#8c8c8c" stroke-width="1" />
<text x="366.1" y="355.94" font-size="9.7" fill="#262626" text-anchor="end" font-family='"Liberation Sans", sans-serif' textLength="14.02" lengthAdjust="spacingAndGlyphs" >0.2</text>
<line x1="367.1" y1="320.68" x2="370.6" y2="320.68" stroke="#8c8c8c" stroke-width="1" />
<text x="366.1" y="324.48" font-size="9.7" fill="#262626" text-anchor="end" font-family='"Liberation Sans", sans-serif' textLength="14.02" lengthAdjust="spacingAndGlyphs" >0.4</text>
<line x1="367.1" y1="289.22" x2="370.6" y2="289.22" stroke="#8c8c8c" stroke-width="1" />
<text x="366.1" y="293.02" font-size="9.7" fill="#262626" text-anchor="end" font-family='"Liberation Sans", sans-serif' textLength="14.02" lengthAdjust="spacingAndGlyphs" >0.6</text>
<line x1="367.1" y1="257.76" x2="370.6" y2="257.76" stroke="#8c8c8c" stroke-width="1" />
<text x="366.1" y="261.56" font-size="9.7" fill="#262626" text-anchor="end" font-family='"Liberation Sans", sans-serif' textLength="14.02" lengthAdjust="spacingAndGlyphs" >0.8</text>
<line x1="367.1" y1="226.3" x2="370.6" y2="226.3" stroke="#8c8c8c" stroke-width="1" />
<text x="366.1" y="230.1" font-size="9.7" fill="#262626" text-anchor="end" font-family='"Liberation Sans", sans-serif' textLength="14.02" lengthAdjust="spacingAndGlyphs" >1.0</text>
<line x1="370.6" y1="383.6" x2="370.6" y2="387.1" stroke="#8c8c8c" stroke-width="1" />
<text x="370.6" y="395" font-size="10" fill="#262626" text-anchor="middle" font-family='"Liberation Sans", sans-serif' textLength="5.56" lengthAdjust="spacingAndGlyphs" >0</text>
<line x1="414.32" y1="383.6" x2="414.32" y2="387.1" stroke="#8c8c8c" stroke-width="1" />
<text x="414.32" y="395" font-size="10" fill="#262626" text-anchor="middle" font-family='"Liberation Sans", sans-serif' textLength="5.56" lengthAdjust="spacingAndGlyphs" >1</text>
<line x1="458.04" y1="383.6" x2="458.04" y2="387.1" stroke="#8c8c8c" stroke-width="1" />
<text x="458.04" y="395" font-size="10" fill="#262626" text-anchor="middle" font-family='"Liberation Sans", sans-serif' textLength="5.56" lengthAdjust="spacingAndGlyphs" >2</text>
<line x1="501.76" y1="383.6" x2="501.76" y2="387.1" stroke="#8c8c8c" stroke-width="1" />
<text x="501.76" y="395" font-size="10" fill="#262626" text-anchor="middle" font-family='"Liberation Sans", sans-serif' textLength="5.56" lengthAdjust="spacingAndGlyphs" >3</text>
<line x1="545.48" y1="383.6" x2="545.48" y2="387.1" stroke="#8c8c8c" stroke-width="1" />
<text x="545.48" y="395" font-size="10" fill="#262626" text-anchor="middle" font-family='"Liberation Sans", sans-serif' textLength="5.56" lengthAdjust="spacingAndGlyphs" >4</text>
<line x1="589.2" y1="383.6" x2="589.2" y2="387.1" stroke="#8c8c8c" stroke-width="1" />
<text x="589.2" y="395" font-size="10" fill="#262626" text-anchor="middle" font-family='"Liberation Sans", sans-serif' textLength="5.56" lengthAdjust="spacingAndGlyphs" >5</text>
<text x="479.9" y="408" font-size="12.2" fill="#262626" text-anchor="middle" font-family='"Liberation Sans", sans-serif' textLength="87" lengthAdjust="spacingAndGlyphs" >Time (seconds)</text>
<text x="0" y="0" font-size="11.6" fill="#262626" text-anchor="middle" font-family='"Liberation Sans", sans-serif' textLength="85.5" lengthAdjust="spacingAndGlyphs" transform="translate(345.9,305.1) rotate(-90)">Rx Heater [AU]</text>
<line x1="668.4" y1="369.23" x2="914" y2="369.23" stroke="#d9d9d9" stroke-width="0.8" stroke-dasharray="1.5,1"/>
<line x1="668.4" y1="365.26" x2="914" y2="365.26" stroke="#d9d9d9" stroke-width="0.8" stroke-dasharray="1.5,1"/>
<line x1="668.4" y1="362.45" x2="914" y2="362.45" stroke="#d9d9d9" stroke-width="0.8" stroke-dasharray="1.5,1"/>
<line x1="668.4" y1="360.27" x2="914" y2="360.27" stroke="#d9d9d9" stroke-width="0.8" stroke-dasharray="1.5,1"/>
<line x1="668.4" y1="358.49" x2="914" y2="358.49" stroke="#d9d9d9" stroke-width="0.8" stroke-dasharray="1.5,1"/>
<line x1="668.4" y1="356.99" x2="914" y2="356.99" stroke="#d9d9d9" stroke-width="0.8" stroke-dasharray="1.5,1"/>
<line x1="668.4" y1="355.68" x2="914" y2="355.68" stroke="#d9d9d9" stroke-width="0.8" stroke-dasharray="1.5,1"/>
<line x1="668.4" y1="354.53" x2="914" y2="354.53" stroke="#d9d9d9" stroke-width="0.8" stroke-dasharray="1.5,1"/>
<line x1="668.4" y1="353.5" x2="914" y2="353.5" stroke="#d9d9d9" stroke-width="0.8" stroke-dasharray="1.5,1"/>
<line x1="668.4" y1="346.73" x2="914" y2="346.73" stroke="#d9d9d9" stroke-width="0.8" stroke-dasharray="1.5,1"/>
<line x1="668.4" y1="342.76" x2="914" y2="342.76" stroke="#d9d9d9" stroke-width="0.8" stroke-dasharray="1.5,1"/>
<line x1="668.4" y1="339.95" x2="914" y2="339.95" stroke="#d9d9d9" stroke-width="0.8" stroke-dasharray="1.5,1"/>
<line x1="668.4" y1="337.77" x2="914" y2="337.77" stroke="#d9d9d9" stroke-width="0.8" stroke-dasharray="1.5,1"/>
<line x1="668.4" y1="335.99" x2="914" y2="335.99" stroke="#d9d9d9" stroke-width="0.8" stroke-dasharray="1.5,1"/>
<line x1="668.4" y1="334.49" x2="914" y2="334.49" stroke="#d9d9d9" stroke-width="0.8" stroke-dasharray="1.5,1"/>
<line x1="668.4" y1="333.18" x2="914" y2="333.18" stroke="#d9d9d9" stroke-width="0.8" stroke-dasharray="1.5,1"/>
<line x1="668.4" y1="332.03" x2="914" y2="332.03" stroke="#d9d9d9" stroke-width="0.8" stroke-dasharray="1.5,1"/>
<line x1="668.4" y1="331" x2="914" y2="331" stroke="#d9d9d9" stroke-width="0.8" stroke-dasharray="1.5,1"/>
<line x1="668.4" y1="324.23" x2="914" y2="324.23" stroke="#d9d9d9" stroke-width="0.8" stroke-dasharray="1.5,1"/>
<line x1="668.4" y1="320.26" x2="914" y2="320.26" stroke="#d9d9d9" stroke-width="0.8" stroke-dasharray="1.5,1"/>
<line x1="668.4" y1="317.45" x2="914" y2="317.45" stroke="#d9d9d9" stroke-width="0.8" stroke-dasharray="1.5,1"/>
<line x1="668.4" y1="315.27" x2="914" y2="315.27" stroke="#d9d9d9" stroke-width="0.8" stroke-dasharray="1.5,1"/>
<line x1="668.4" y1="313.49" x2="914" y2="313.49" stroke="#d9d9d9" stroke-width="0.8" stroke-dasharray="1.5,1"/>
<line x1="668.4" y1="311.99" x2="914" y2="311.99" stroke="#d9d9d9" stroke-width="0.8" stroke-dasharray="1.5,1"/>
<line x1="668.4" y1="310.68" x2="914" y2="310.68" stroke="#d9d9d9" stroke-width="0.8" stroke-dasharray="1.5,1"/>
<line x1="668.4" y1="309.53" x2="914" y2="309.53" stroke="#d9d9d9" stroke-width="0.8" stroke-dasharray="1.5,1"/>
<line x1="668.4" y1="308.5" x2="914" y2="308.5" stroke="#d9d9d9" stroke-width="0.8" stroke-dasharray="1.5,1"/>
<line x1="668.4" y1="301.73" x2="914" y2="301.73" stroke="#d9d9d9" stroke-width="0.8" stroke-dasharray="1.5,1"/>
<line x1="668.4" y1="297.76" x2="914" y2="297.76" stroke="#d9d9d9" stroke-width="0.8" stroke-dasharray="1.5,1"/>
<line x1="668.4" y1="294.95" x2="914" y2="294.95" stroke="#d9d9d9" stroke-width="0.8" stroke-dasharray="1.5,1"/>
<line x1="668.4" y1="292.77" x2="914" y2="292.77" stroke="#d9d9d9" stroke-width="0.8" stroke-dasharray="1.5,1"/>
<line x1="668.4" y1="290.99" x2="914" y2="290.99" stroke="#d9d9d9" stroke-width="0.8" stroke-dasharray="1.5,1"/>
<line x1="668.4" y1="289.49" x2="914" y2="289.49" stroke="#d9d9d9" stroke-width="0.8" stroke-dasharray="1.5,1"/>
<line x1="668.4" y1="288.18" x2="914" y2="288.18" stroke="#d9d9d9" stroke-width="0.8" stroke-dasharray="1.5,1"/>
<line x1="668.4" y1="287.03" x2="914" y2="287.03" stroke="#d9d9d9" stroke-width="0.8" stroke-dasharray="1.5,1"/>
<line x1="668.4" y1="286" x2="914" y2="286" stroke="#d9d9d9" stroke-width="0.8" stroke-dasharray="1.5,1"/>
<line x1="668.4" y1="279.23" x2="914" y2="279.23" stroke="#d9d9d9" stroke-width="0.8" stroke-dasharray="1.5,1"/>
<line x1="668.4" y1="275.26" x2="914" y2="275.26" stroke="#d9d9d9" stroke-width="0.8" stroke-dasharray="1.5,1"/>
<line x1="668.4" y1="272.45" x2="914" y2="272.45" stroke="#d9d9d9" stroke-width="0.8" stroke-dasharray="1.5,1"/>
<line x1="668.4" y1="270.27" x2="914" y2="270.27" stroke="#d9d9d9" stroke-width="0.8" stroke-dasharray="1.5,1"/>
<line x1="668.4" y1="268.49" x2="914" y2="268.49" stroke="#d9d9d9" stroke-width="0.8" stroke-dasharray="1.5,1"/>
<line x1="668.4" y1="266.99" x2="914" y2="266.99" stroke="#d9d9d9" stroke-width="0.8" stroke-dasharray="1.5,1"/>
<line x1="668.4" y1="265.68" x2="914" y2="265.68" stroke="#d9d9d9" stroke-width="0.8" stroke-dasharray="1.5,1"/>
<line x1="668.4" y1="264.53" x2="914" y2="264.53" stroke="#d9d9d9" stroke-width="0.8" stroke-dasharray="1.5,1"/>
<line x1="668.4" y1="263.5" x2="914" y2="263.5" stroke="#d9d9d9" stroke-width="0.8" stroke-dasharray="1.5,1"/>
<line x1="668.4" y1="256.73" x2="914" y2="256.73" stroke="#d9d9d9" stroke-width="0.8" stroke-dasharray="1.5,1"/>
<line x1="668.4" y1="252.76" x2="914" y2="252.76" stroke="#d9d9d9" stroke-width="0.8" stroke-dasharray="1.5,1"/>
<line x1="668.4" y1="249.95" x2="914" y2="249.95" stroke="#d9d9d9" stroke-width="0.8" stroke-dasharray="1.5,1"/>
<line x1="668.4" y1="247.77" x2="914" y2="247.77" stroke="#d9d9d9" stroke-width="0.8" stroke-dasharray="1.5,1"/>
<line x1="668.4" y1="245.99" x2="914" y2="245.99" stroke="#d9d9d9" stroke-width="0.8" stroke-dasharray="1.5,1"/>
<line x1="668.4" y1="244.49" x2="914" y2="244.49" stroke="#d9d9d9" stroke-width="0.8" stroke-dasharray="1.5,1"/>
<line x1="668.4" y1="243.18" x2="914" y2="243.18" stroke="#d9d9d9" stroke-width="0.8" stroke-dasharray="1.5,1"/>
<line x1="668.4" y1="242.03" x2="914" y2="242.03" stroke="#d9d9d9" stroke-width="0.8" stroke-dasharray="1.5,1"/>
<line x1="709.2" y1="241" x2="709.2" y2="376" stroke="#dcdcdc" stroke-width="0.8" stroke-dasharray="2,1"/>
<line x1="750" y1="241" x2="750" y2="376" stroke="#dcdcdc" stroke-width="0.8" stroke-dasharray="2,1"/>
<line x1="790.8" y1="241" x2="790.8" y2="376" stroke="#dcdcdc" stroke-width="0.8" stroke-dasharray="2,1"/>
<line x1="832" y1="241" x2="832" y2="376" stroke="#dcdcdc" stroke-width="0.8" stroke-dasharray="2,1"/>
<line x1="872.8" y1="241" x2="872.8" y2="376" stroke="#dcdcdc" stroke-width="0.8" stroke-dasharray="2,1"/>
<polyline points="671.3,326.2 675.5,320.1 679,319.4 683.3,319.9 695.9,321.1 709.9,321.3 728.2,322.2 733.8,320.6 749.2,320.8 768.9,321.5 777.3,320.6 785.7,319.9 795,320.1 810,320.9 832,321.6 848,320.9 870,321.5 887,321.7 913.5,321.4" fill="none" stroke="#FF6633" stroke-width="2.0" stroke-linejoin="round" />
<rect x="668.4" y="241.0" width="245.6" height="135" fill="none" stroke="#2a2a2a" stroke-width="1.3"/>
<line x1="664.9" y1="376" x2="668.4" y2="376" stroke="#2a2a2a" stroke-width="1.2" />
<text x="648.8" y="381.3" font-size="10.2" fill="#444444" text-anchor="end" font-family='"Liberation Sans", sans-serif'>10</text>
<text x="648.6" y="374.4" font-size="7.6" fill="#444444" text-anchor="start" font-family='"Liberation Sans", sans-serif'>−12</text>
<line x1="664.9" y1="353.5" x2="668.4" y2="353.5" stroke="#2a2a2a" stroke-width="1.2" />
<text x="648.8" y="358.8" font-size="10.2" fill="#444444" text-anchor="end" font-family='"Liberation Sans", sans-serif'>10</text>
<text x="648.6" y="351.9" font-size="7.6" fill="#444444" text-anchor="start" font-family='"Liberation Sans", sans-serif'>−11</text>
<line x1="664.9" y1="331" x2="668.4" y2="331" stroke="#2a2a2a" stroke-width="1.2" />
<text x="648.8" y="336.3" font-size="10.2" fill="#444444" text-anchor="end" font-family='"Liberation Sans", sans-serif'>10</text>
<text x="648.6" y="329.4" font-size="7.6" fill="#444444" text-anchor="start" font-family='"Liberation Sans", sans-serif'>−10</text>
<line x1="664.9" y1="308.5" x2="668.4" y2="308.5" stroke="#2a2a2a" stroke-width="1.2" />
<text x="652.8" y="313.8" font-size="10.2" fill="#444444" text-anchor="end" font-family='"Liberation Sans", sans-serif'>10</text>
<text x="652.6" y="306.9" font-size="7.6" fill="#444444" text-anchor="start" font-family='"Liberation Sans", sans-serif'>−9</text>
<line x1="664.9" y1="286" x2="668.4" y2="286" stroke="#2a2a2a" stroke-width="1.2" />
<text x="652.8" y="291.3" font-size="10.2" fill="#444444" text-anchor="end" font-family='"Liberation Sans", sans-serif'>10</text>
<text x="652.6" y="284.4" font-size="7.6" fill="#444444" text-anchor="start" font-family='"Liberation Sans", sans-serif'>−8</text>
<line x1="664.9" y1="263.5" x2="668.4" y2="263.5" stroke="#2a2a2a" stroke-width="1.2" />
<text x="652.8" y="268.8" font-size="10.2" fill="#444444" text-anchor="end" font-family='"Liberation Sans", sans-serif'>10</text>
<text x="652.6" y="261.9" font-size="7.6" fill="#444444" text-anchor="start" font-family='"Liberation Sans", sans-serif'>−7</text>
<line x1="664.9" y1="241" x2="668.4" y2="241" stroke="#2a2a2a" stroke-width="1.2" />
<text x="652.8" y="246.3" font-size="10.2" fill="#444444" text-anchor="end" font-family='"Liberation Sans", sans-serif'>10</text>
<text x="652.6" y="239.4" font-size="7.6" fill="#444444" text-anchor="start" font-family='"Liberation Sans", sans-serif'>−6</text>
<line x1="668.5" y1="376" x2="668.5" y2="379.5" stroke="#2a2a2a" stroke-width="1.2" />
<text x="668.5" y="390" font-size="10.6" fill="#444444" text-anchor="middle" font-family='"Liberation Sans", sans-serif' >0</text>
<line x1="709.2" y1="376" x2="709.2" y2="379.5" stroke="#2a2a2a" stroke-width="1.2" />
<text x="709.2" y="390" font-size="10.6" fill="#444444" text-anchor="middle" font-family='"Liberation Sans", sans-serif' >20</text>
<line x1="750" y1="376" x2="750" y2="379.5" stroke="#2a2a2a" stroke-width="1.2" />
<text x="750" y="390" font-size="10.6" fill="#444444" text-anchor="middle" font-family='"Liberation Sans", sans-serif' >40</text>
<line x1="790.8" y1="376" x2="790.8" y2="379.5" stroke="#2a2a2a" stroke-width="1.2" />
<text x="790.8" y="390" font-size="10.6" fill="#444444" text-anchor="middle" font-family='"Liberation Sans", sans-serif' >60</text>
<line x1="832" y1="376" x2="832" y2="379.5" stroke="#2a2a2a" stroke-width="1.2" />
<text x="832" y="390" font-size="10.6" fill="#444444" text-anchor="middle" font-family='"Liberation Sans", sans-serif' >80</text>
<line x1="872.8" y1="376" x2="872.8" y2="379.5" stroke="#2a2a2a" stroke-width="1.2" />
<text x="872.8" y="390" font-size="10.6" fill="#444444" text-anchor="middle" font-family='"Liberation Sans", sans-serif' >100</text>
<line x1="914" y1="376" x2="914" y2="379.5" stroke="#2a2a2a" stroke-width="1.2" />
<text x="914" y="390" font-size="10.6" fill="#444444" text-anchor="middle" font-family='"Liberation Sans", sans-serif' >120</text>
<text x="791.4" y="404.5" font-size="12.4" fill="#444444" text-anchor="middle" font-family='"Liberation Sans", sans-serif' textLength="42.6" lengthAdjust="spacingAndGlyphs" >Time [s]</text>
<text x="0" y="0" font-size="11.6" fill="#444444" text-anchor="middle" font-family='"Liberation Sans", sans-serif' textLength="115" lengthAdjust="spacingAndGlyphs" transform="translate(629,308.1) rotate(-90)">Bit Error Rate (BER)</text>
<rect x="49.7" y="17.5" width="16.8" height="157.7" fill="none" stroke="#FF3300" stroke-width="2.0"/>
<rect x="355.5" y="31.2" width="16.9" height="151.3" fill="none" stroke="#FF3300" stroke-width="2.0"/>
<rect x="4.3" y="218.3" width="280.1" height="198.7" fill="none" stroke="#FF3300" stroke-width="2.0"/>
<rect x="331.4" y="216.3" width="275" height="208.3" fill="none" stroke="#FF3300" stroke-width="2.0"/>
<line x1="57.5" y1="176" x2="4.3" y2="218.3" stroke="#FF3300" stroke-width="2.0" />
<line x1="57.5" y1="176" x2="284.4" y2="218.5" stroke="#FF3300" stroke-width="2.0" />
<line x1="363" y1="183" x2="331.4" y2="216.3" stroke="#FF3300" stroke-width="2.0" />
<line x1="363" y1="183" x2="606.4" y2="216.5" stroke="#FF3300" stroke-width="2.0" />
<line x1="311.2" y1="422.8" x2="65.21" y2="333.52" stroke="#4a4a4a" stroke-width="2" />
<polygon points="54.4,329.6 68.86,329.32 65.32,339.09" fill="#4a4a4a"/>
<line x1="311.2" y1="422.8" x2="371.4" y2="342.5" stroke="#4a4a4a" stroke-width="2" />
<polygon points="378.3,333.3 374.36,347.22 366.04,340.98" fill="#4a4a4a"/>
<circle cx="311.2" cy="422.8" r="1" fill="#4a4a4a"/>
<text x="220.3" y="450.5" font-size="18" fill="#111" text-anchor="start" font-family='"Liberation Sans", sans-serif' textLength="181.4" lengthAdjust="spacingAndGlyphs" >Laser starts sweeping</text>
</svg>
</body></html>
